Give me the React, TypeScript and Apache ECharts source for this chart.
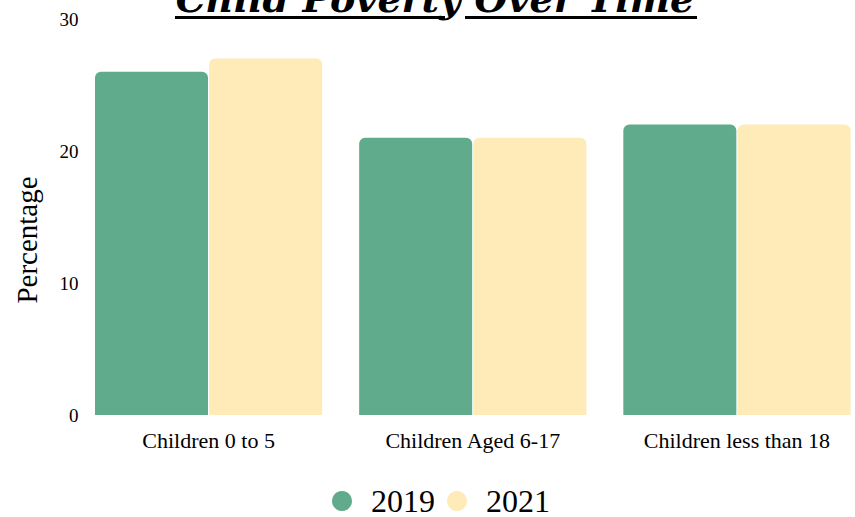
import React, { useEffect, useRef } from "react";
import * as echarts from "echarts";

const categories = ["Children 0 to 5", "Children Aged 6-17", "Children less than 18"];
const seriesNames = ["2019", "2021"];
const values2019 = [26, 21, 22];
const values2021 = [27, 21, 22];
const colors = ["#5FAB8B", "#FEEBB7"];

export default function App() {
  const ref = useRef<HTMLDivElement>(null);
  useEffect(() => {
    const chart = echarts.init(ref.current!, null, { renderer: "svg" });
    const serif = "'Liberation Serif', 'Times New Roman', serif";
    chart.setOption({
      animation: false,
      backgroundColor: "#ffffff",
      title: {
        text: "Child Poverty Over Time",
        left: "center",
        top: -26,
        textStyle: {
          fontFamily: "'DejaVu Serif', serif",
          fontWeight: "bold",
          fontStyle: "italic",
          fontSize: 38,
          color: "#000",
        },
      },
      graphic: [
        { type: "rect", shape: { x: 175, y: 16, width: 270, height: 3 }, style: { fill: "#000" } },
        { type: "rect", shape: { x: 465, y: 16, width: 232, height: 3 }, style: { fill: "#000" } },
        {
          type: "text",
          x: 27,
          y: 240,
          rotation: Math.PI / 2,
          style: {
            text: "Percentage",
            fontFamily: serif,
            fontSize: 29,
            fill: "#000",
            align: "center",
            verticalAlign: "middle",
          },
        },
      ],
      legend: {
        data: seriesNames,
        top: 480,
        left: 327,
        icon: "circle",
        itemWidth: 20,
        itemHeight: 20,
        itemGap: 12,
        textStyle: {
          fontFamily: serif,
          fontSize: 32,
          lineHeight: 28,
          color: "#000",
          padding: [0, 0, 0, 14],
        },
      },
      grid: { left: 76.5, right: 1, top: 19, bottom: 102 },
      xAxis: {
        type: "category",
        data: categories,
        axisLine: { show: false },
        axisTick: { show: false },
        axisLabel: { fontFamily: serif, fontSize: 22, color: "#000", margin: 14 },
      },
      yAxis: {
        type: "value",
        min: 0,
        max: 30,
        interval: 10,
        splitLine: { show: false },
        axisLine: { show: false },
        axisTick: { show: false },
        axisLabel: { fontFamily: serif, fontSize: 19, color: "#000", margin: -2 },
      },
      series: [
        {
          name: seriesNames[0],
          type: "bar",
          data: values2019,
          barGap: "1%",
          barCategoryGap: "14%",
          itemStyle: { color: colors[0], borderRadius: [6, 6, 0, 0] },
        },
        {
          name: seriesNames[1],
          type: "bar",
          data: values2021,
          barGap: "1%",
          barCategoryGap: "14%",
          itemStyle: { color: colors[1], borderRadius: [6, 6, 0, 0] },
        },
      ],
    });
    return () => chart.dispose();
  }, []);
  return (
    <div style={{ width: 855, height: 517, position: "absolute", left: 0, top: 0, overflow: "hidden" }}>
      <div ref={ref} style={{ width: 870, height: 517 }} />
    </div>
  );
}
